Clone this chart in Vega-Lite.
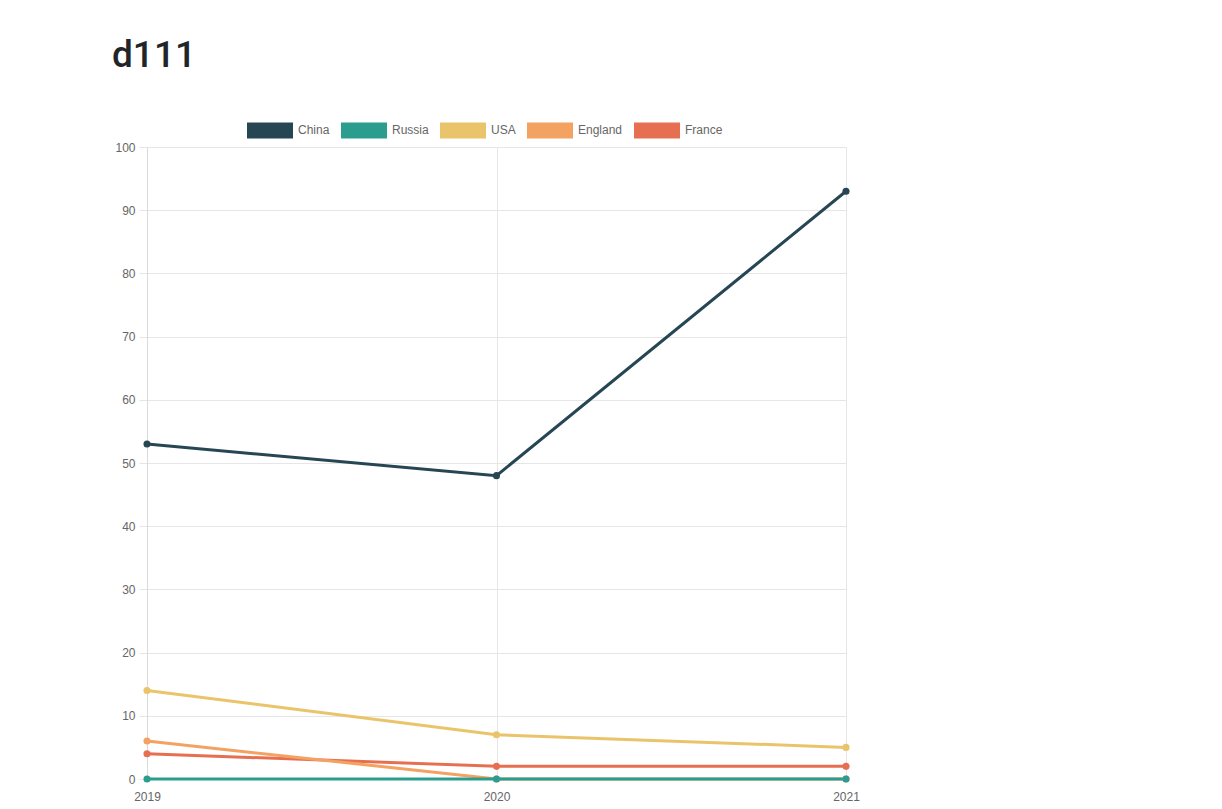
{
  "$schema": "https://vega.github.io/schema/vega-lite/v6.json",
  "autosize": {"type": "none"},
  "width": 699,
  "height": 632,
  "padding": {"left": 147, "top": 147, "right": 376, "bottom": 30},
  "background": "white",
  "title": {
    "text": "d111",
    "anchor": "start",
    "frame": "group",
    "dx": -35,
    "offset": 32,
    "fontSize": 37,
    "font": "Roboto",
    "fontWeight": 500,
    "color": "#212529"
  },
  "data": {
    "values": [
      {"year": "2019", "country": "France", "value": 4},
      {"year": "2020", "country": "France", "value": 2},
      {"year": "2021", "country": "France", "value": 2},
      {"year": "2019", "country": "England", "value": 6},
      {"year": "2020", "country": "England", "value": 0},
      {"year": "2021", "country": "England", "value": 0},
      {"year": "2019", "country": "USA", "value": 14},
      {"year": "2020", "country": "USA", "value": 7},
      {"year": "2021", "country": "USA", "value": 5},
      {"year": "2019", "country": "Russia", "value": 0},
      {"year": "2020", "country": "Russia", "value": 0},
      {"year": "2021", "country": "Russia", "value": 0},
      {"year": "2019", "country": "China", "value": 53},
      {"year": "2020", "country": "China", "value": 48},
      {"year": "2021", "country": "China", "value": 93}
    ]
  },
  "encoding": {
    "x": {
      "field": "year",
      "type": "ordinal",
      "sort": null,
      "scale": {"type": "point", "padding": 0},
      "axis": {
        "title": null,
        "labelAngle": 0,
        "grid": true,
        "gridColor": "#e6e6e6",
        "ticks": false,
        "domain": true,
        "domainColor": "#d9d9d9",
        "labelPadding": 12,
        "labelFont": "Liberation Sans",
        "labelFontSize": 12,
        "labelColor": "#666666"
      }
    },
    "y": {
      "field": "value",
      "type": "quantitative",
      "scale": {"domain": [0, 100], "nice": false},
      "axis": {
        "title": null,
        "values": [0, 10, 20, 30, 40, 50, 60, 70, 80, 90, 100],
        "grid": true,
        "gridColor": "#e6e6e6",
        "domainColor": "#d9d9d9",
        "tickColor": "#e6e6e6",
        "tickSize": 8,
        "labelPadding": 4,
        "labelFont": "Liberation Sans",
        "labelFontSize": 12,
        "labelColor": "#666666"
      }
    },
    "color": {
      "field": "country",
      "type": "nominal",
      "scale": {
        "domain": ["China", "Russia", "USA", "England", "France"],
        "range": ["#264653", "#2a9d8f", "#e9c46a", "#f4a261", "#e76f51"]
      },
      "legend": {
        "title": null,
        "orient": "none",
        "legendX": 100,
        "legendY": -40,
        "direction": "horizontal",
        "padding": 0,
        "symbolType": "M-1,-0.348H1V0.348H-1Z",
        "symbolSize": 2116,
        "symbolStrokeWidth": 0,
        "symbolOpacity": 1,
        "labelOffset": 5,
        "columnPadding": 11,
        "labelFont": "Liberation Sans",
        "labelFontSize": 12,
        "labelColor": "#666666",
        "encode": {
          "symbols": {
            "update": {
              "fill": {"scale": "color", "field": "value"},
              "opacity": {"value": 1}
            }
          }
        }
      }
    }
  },
  "layer": [
    {
      "mark": {"type": "line", "strokeWidth": 3}
    },
    {
      "mark": {"type": "point", "filled": true, "size": 50, "opacity": 1}
    }
  ],
  "config": {
    "view": {"stroke": null}
  }
}
